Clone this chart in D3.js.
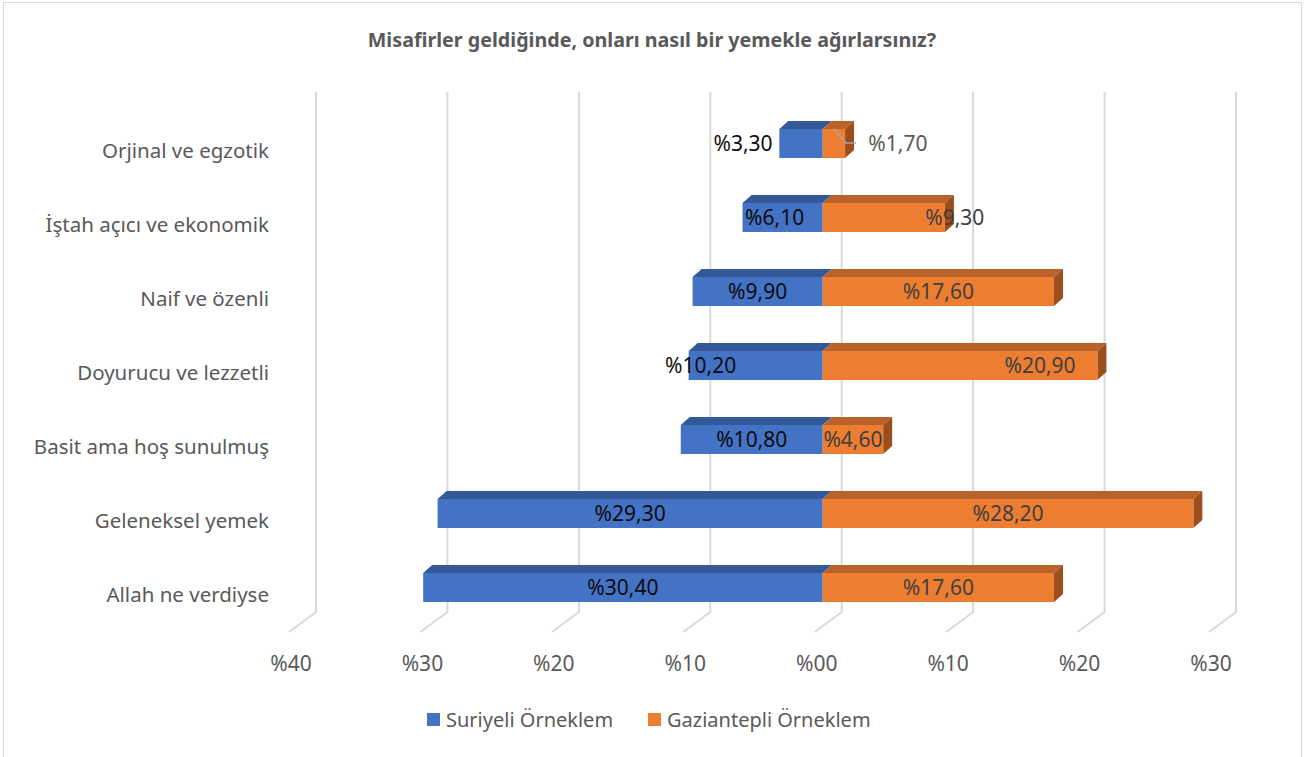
<html>
  <head>
    <meta charset="utf-8">
    <title>Misafirler</title>
    <style>
    body{ margin: 0; background: #fff; }
    text{ font-family: "Noto Sans", "Open Sans", sans-serif; }
    </style>
    <script src="https://d3js.org/d3.v7.min.js"></script>
  </head>
  <body>
    <div id="container"></div>
    <script>
    // chart data
    const categories = ["Orjinal ve egzotik", "İştah açıcı ve ekonomik", "Naif ve özenli",
                        "Doyurucu ve lezzetli", "Basit ama hoş sunulmuş", "Geleneksel yemek", "Allah ne verdiyse"];
    const suriyeli = [3.3, 6.1, 9.9, 10.2, 10.8, 29.3, 30.4];
    const gaziantep = [1.7, 9.3, 17.6, 20.9, 4.6, 28.2, 17.6];
    const seriesNames = ["Suriyeli Örneklem", "Gaziantepli Örneklem"];
    const tickValues = [-40, -30, -20, -10, 0, 10, 20, 30];
    const tickLabels = ["%40", "%30", "%20", "%10", "%00", "%10", "%20", "%30"];

    // labels that were dragged off centre in the original (pixels)
    const blueLabelShift = [-58, -8, 0, -55, 0, 0, 0];
    const orangeLabelShift = [64, 71, 0, 80, 0, 0, 0];

    const width = 1305, height = 757;
    const depthX = 9, depthY = -8;     // 3d depth of the bars
    const frontShift = -19;            // bars sit in front of the back wall
    const barH = 29;

    const blue = "#4472c4", blueTop = "#34599b";
    const orange = "#ed7d31", orangeTop = "#b9622a", orangeSide = "#9c4f1d";

    const svg = d3.select("#container")
      .append("svg")
      .attr("width", width)
      .attr("height", height);

    svg.append("rect")
      .attr("x", 3.5).attr("y", 2.5)
      .attr("width", 1298).attr("height", 770)
      .attr("fill", "#fff")
      .attr("stroke", "#d9d9d9");

    // title
    svg.append("text")
      .attr("x", 652).attr("y", 47)
      .attr("text-anchor", "middle")
      .attr("font-size", 19.7)
      .attr("font-weight", "bold")
      .attr("fill", "#595959")
      .text("Misafirler geldiğinde, onları nasıl bir yemekle ağırlarsınız?");

    // scales
    const x = d3.scaleLinear().domain([-40, 30]).range([316, 1236]);
    const y = d3.scalePoint().domain(categories).range([143.5, 587.5]);
    const fx = v => x(v) + frontShift;

    // back wall gridlines with the floor diagonal
    const grid = svg.append("g");
    tickValues.forEach(function(t, i){
      const gx = x(t);
      grid.append("path")
        .attr("d", "M" + gx + ",92 L" + gx + ",612 L" + (gx - 27) + ",632")
        .attr("fill", "none")
        .attr("stroke", "#d9d9d9")
        .attr("stroke-width", 2);
      grid.append("text")
        .attr("x", gx - 25).attr("y", 671)
        .attr("text-anchor", "middle")
        .attr("font-size", 21)
        .attr("fill", "#595959")
        .text(tickLabels[i]);
    });

    // category labels
    svg.append("g").selectAll("text")
      .data(categories)
      .enter()
      .append("text")
      .attr("x", 269)
      .attr("y", d => y(d) + 14)
      .attr("text-anchor", "end")
      .attr("font-size", 20.5)
      .attr("fill", "#595959")
      .text(d => d);

    function topFace(x1, x2, yt){
      return "M" + x1 + "," + yt + " L" + x2 + "," + yt +
             " L" + (x2 + depthX) + "," + (yt + depthY) +
             " L" + (x1 + depthX) + "," + (yt + depthY) + "Z";
    }
    function sideFace(x2, yt, yb){
      return "M" + x2 + "," + yt + " L" + (x2 + depthX) + "," + (yt + depthY) +
             " L" + (x2 + depthX) + "," + (yb + depthY) + " L" + x2 + "," + yb + "Z";
    }

    const bars = svg.append("g");
    categories.forEach(function(c, i){
      const yt = y(c) - barH / 2, yb = yt + barH;
      const b0 = fx(-suriyeli[i]), z = fx(0), o1 = fx(gaziantep[i]);

      // blue segment
      bars.append("path").attr("d", topFace(b0, z, yt)).attr("fill", blueTop);
      bars.append("rect")
        .attr("x", b0).attr("y", yt)
        .attr("width", z - b0).attr("height", barH)
        .attr("fill", blue);

      // orange segment
      bars.append("path").attr("d", topFace(z, o1, yt)).attr("fill", orangeTop);
      bars.append("path").attr("d", sideFace(o1, yt, yb)).attr("fill", orangeSide);
      bars.append("rect")
        .attr("x", z).attr("y", yt)
        .attr("width", o1 - z).attr("height", barH)
        .attr("fill", orange);
    });

    // data labels
    const fmt = v => "%" + v.toFixed(2).replace(".", ",");
    const labels = svg.append("g");
    categories.forEach(function(c, i){
      const cy = y(c);
      labels.append("text")
        .attr("x", (fx(-suriyeli[i]) + fx(0)) / 2 + blueLabelShift[i])
        .attr("y", cy)
        .attr("dy", "0.35em")
        .attr("text-anchor", "middle")
        .attr("font-size", 21)
        .attr("fill", "#0d0d0d")
        .text(fmt(suriyeli[i]));
      labels.append("text")
        .attr("x", (fx(0) + fx(gaziantep[i])) / 2 + orangeLabelShift[i])
        .attr("y", cy)
        .attr("dy", "0.35em")
        .attr("text-anchor", "middle")
        .attr("font-size", 21)
        .attr("fill", i == 0 ? "#595959" : "#404040")
        .text(fmt(gaziantep[i]));
    });

    // leader line for the small label in the first row
    const c0 = (fx(0) + fx(gaziantep[0])) / 2, t0 = y(categories[0]) - barH / 2;
    labels.append("path")
      .attr("d", "M" + c0 + "," + t0 + " L" + (c0 + 12) + "," + (t0 + 14) + " L" + (c0 + 22) + "," + (t0 + 14))
      .attr("fill", "none")
      .attr("stroke", "#a6a6a6")
      .attr("stroke-width", 1.5);

    // legend
    const legend = svg.append("g");
    const legendX = [427, 648];
    seriesNames.forEach(function(n, i){
      legend.append("rect")
        .attr("x", legendX[i]).attr("y", 713)
        .attr("width", 13).attr("height", 13)
        .attr("fill", i == 0 ? blue : orange);
      legend.append("text")
        .attr("x", legendX[i] + 19).attr("y", 727)
        .attr("font-size", 20)
        .attr("fill", "#595959")
        .text(n);
    });
    </script>
  </body>
</html>
